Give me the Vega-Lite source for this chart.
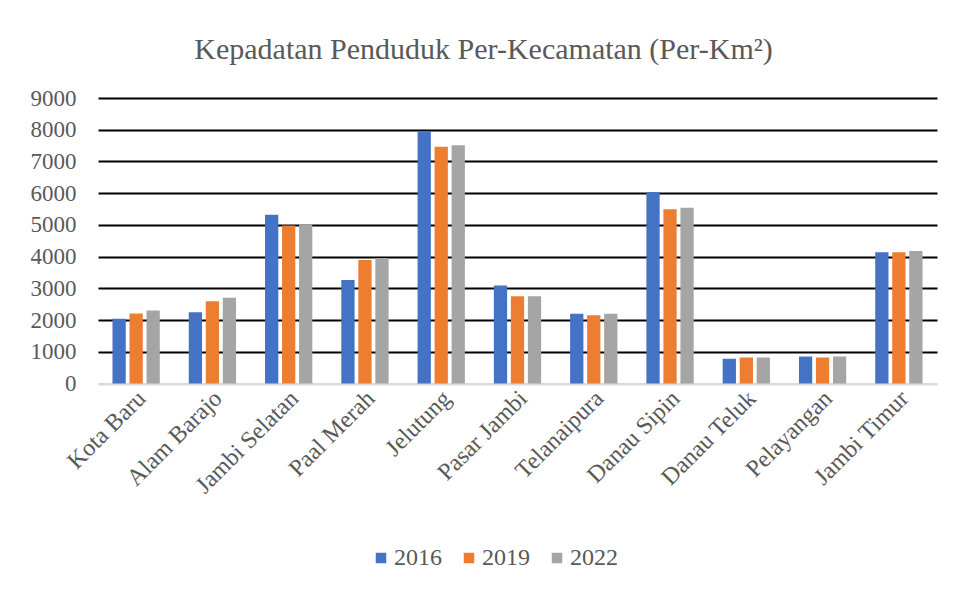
{
  "$schema": "https://vega.github.io/schema/vega-lite/v6.json",
  "width": 839,
  "height": 285.5,
  "padding": {"left": 30, "top": 35, "right": 18, "bottom": 10},
  "background": "white",
  "title": {
    "text": "Kepadatan Penduduk Per-Kecamatan (Per-Km²)",
    "font": "Liberation Serif",
    "fontSize": 30,
    "fontWeight": "normal",
    "color": "#595959",
    "offset": 22,
    "frame": "bounds"
  },
  "data": {
    "values": [
      {"kecamatan": "Kota Baru", "tahun": "2016", "kepadatan": 2040},
      {"kecamatan": "Kota Baru", "tahun": "2019", "kepadatan": 2210},
      {"kecamatan": "Kota Baru", "tahun": "2022", "kepadatan": 2300},
      {"kecamatan": "Alam Barajo", "tahun": "2016", "kepadatan": 2250},
      {"kecamatan": "Alam Barajo", "tahun": "2019", "kepadatan": 2590},
      {"kecamatan": "Alam Barajo", "tahun": "2022", "kepadatan": 2700},
      {"kecamatan": "Jambi Selatan", "tahun": "2016", "kepadatan": 5320},
      {"kecamatan": "Jambi Selatan", "tahun": "2019", "kepadatan": 4980},
      {"kecamatan": "Jambi Selatan", "tahun": "2022", "kepadatan": 5020},
      {"kecamatan": "Paal Merah", "tahun": "2016", "kepadatan": 3260},
      {"kecamatan": "Paal Merah", "tahun": "2019", "kepadatan": 3890},
      {"kecamatan": "Paal Merah", "tahun": "2022", "kepadatan": 3960},
      {"kecamatan": "Jelutung", "tahun": "2016", "kepadatan": 7950},
      {"kecamatan": "Jelutung", "tahun": "2019", "kepadatan": 7460},
      {"kecamatan": "Jelutung", "tahun": "2022", "kepadatan": 7510},
      {"kecamatan": "Pasar Jambi", "tahun": "2016", "kepadatan": 3090},
      {"kecamatan": "Pasar Jambi", "tahun": "2019", "kepadatan": 2750},
      {"kecamatan": "Pasar Jambi", "tahun": "2022", "kepadatan": 2750},
      {"kecamatan": "Telanaipura", "tahun": "2016", "kepadatan": 2200},
      {"kecamatan": "Telanaipura", "tahun": "2019", "kepadatan": 2150},
      {"kecamatan": "Telanaipura", "tahun": "2022", "kepadatan": 2200},
      {"kecamatan": "Danau Sipin", "tahun": "2016", "kepadatan": 6030},
      {"kecamatan": "Danau Sipin", "tahun": "2019", "kepadatan": 5490},
      {"kecamatan": "Danau Sipin", "tahun": "2022", "kepadatan": 5540},
      {"kecamatan": "Danau Teluk", "tahun": "2016", "kepadatan": 780},
      {"kecamatan": "Danau Teluk", "tahun": "2019", "kepadatan": 820},
      {"kecamatan": "Danau Teluk", "tahun": "2022", "kepadatan": 820},
      {"kecamatan": "Pelayangan", "tahun": "2016", "kepadatan": 850},
      {"kecamatan": "Pelayangan", "tahun": "2019", "kepadatan": 820},
      {"kecamatan": "Pelayangan", "tahun": "2022", "kepadatan": 850},
      {"kecamatan": "Jambi Timur", "tahun": "2016", "kepadatan": 4140},
      {"kecamatan": "Jambi Timur", "tahun": "2019", "kepadatan": 4140},
      {"kecamatan": "Jambi Timur", "tahun": "2022", "kepadatan": 4180}
    ]
  },
  "mark": {"type": "bar"},
  "encoding": {
    "x": {
      "field": "kecamatan",
      "type": "nominal",
      "sort": null,
      "scale": {"paddingInner": 0.38, "paddingOuter": 0.19},
      "axis": {
        "title": null,
        "labelAngle": -45,
        "labelAlign": "right",
        "labelBaseline": "middle",
        "labelFont": "Liberation Serif",
        "labelFontSize": 24,
        "labelColor": "#595959",
        "labelPadding": 11,
        "labelOffset": 6,
        "ticks": false,
        "domainColor": "#D9D9D9",
        "domainWidth": 2,
        "grid": false
      }
    },
    "xOffset": {
      "field": "tahun",
      "type": "nominal",
      "scale": {"paddingInner": 0.22}
    },
    "y": {
      "field": "kepadatan",
      "type": "quantitative",
      "scale": {"domain": [0, 9000], "nice": false},
      "axis": {
        "title": null,
        "values": [0, 1000, 2000, 3000, 4000, 5000, 6000, 7000, 8000, 9000],
        "format": "d",
        "labelFont": "Liberation Serif",
        "labelFontSize": 23,
        "labelColor": "#595959",
        "labelPadding": 22,
        "ticks": false,
        "domain": false,
        "grid": true,
        "gridColor": {"condition": {"test": "datum.value === 0", "value": "#D9D9D9"}, "value": "#000000"},
        "gridWidth": 2
      }
    },
    "color": {
      "field": "tahun",
      "type": "nominal",
      "scale": {"domain": ["2016", "2019", "2022"], "range": ["#4472C4", "#ED7D31", "#A5A5A5"]},
      "legend": {
        "title": null,
        "orient": "none",
        "legendX": 271,
        "legendY": 448,
        "direction": "horizontal",
        "symbolType": "square",
        "symbolSize": 110,
        "symbolStrokeWidth": 0,
        "labelFont": "Liberation Serif",
        "labelFontSize": 24,
        "labelColor": "#595959",
        "labelOffset": 1,
        "columnPadding": 15
      }
    }
  },
  "config": {"view": {"stroke": null}}
}
